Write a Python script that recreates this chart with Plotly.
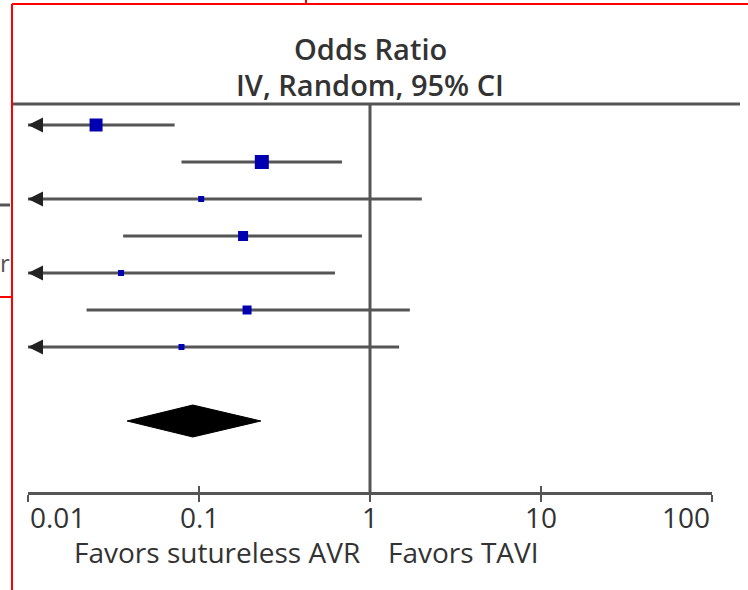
import numpy as np
import plotly.graph_objects as go

# Study estimates (odds ratios with 95% CI), top to bottom
rows = [0, 1, 2, 3, 4, 5, 6]
or_est = [0.025, 0.233, 0.103, 0.181, 0.035, 0.191, 0.079]
ci_low = [0.005, 0.079, 0.004, 0.036, 0.003, 0.022, 0.002]
ci_high = [0.072, 0.686, 2.01, 0.897, 0.624, 1.71, 1.48]
weight_size = [13, 14, 6, 10, 6, 9, 6]

# Pooled estimate
pooled_row = 8
pooled_est = 0.092
pooled_low = 0.038
pooled_high = 0.23

tick_vals = [0.01, 0.1, 1, 10, 100]
tick_text = ["0.01", "0.1", "1", "10", "100"]

X_MIN, X_MAX = 0.01, 100
W, H = 748, 590
LINE = "#555555"
TEXT = "#333333"
FONT = "Open Sans"

# vertical scale: row index -> pixel row position
ROW0_PX, ROW_STEP = 125, 37


def px_to_row(p):
    return (p - ROW0_PX) / ROW_STEP


axis_px = 493
header_px = 104
axis_pos = (H - axis_px) / H

fig = go.Figure()

# reference line at OR = 1
fig.add_trace(go.Scatter(
    x=[1, 1], y=[px_to_row(header_px), px_to_row(axis_px)],
    mode="lines", line=dict(color=LINE, width=3), hoverinfo="skip"))

# confidence interval lines (truncated at the axis minimum)
for r, lo, hi in zip(rows, ci_low, ci_high):
    fig.add_trace(go.Scatter(
        x=[max(lo, X_MIN), min(hi, X_MAX)], y=[r, r], mode="lines",
        line=dict(color=LINE, width=3), hoverinfo="skip"))

# point estimates, sized by study weight
fig.add_trace(go.Scatter(
    x=or_est, y=rows, mode="markers",
    marker=dict(symbol="square", size=weight_size, color="#0000b0",
                opacity=1, line=dict(width=0)),
    hoverinfo="skip"))

# pooled diamond
half_h = 16 / ROW_STEP
fig.add_trace(go.Scatter(
    x=[pooled_low, pooled_est, pooled_high, pooled_est, pooled_low],
    y=[pooled_row, pooled_row - half_h, pooled_row, pooled_row + half_h, pooled_row],
    mode="lines", fill="toself", fillcolor="#000000",
    line=dict(color="#000000", width=1), hoverinfo="skip"))

# invisible trace for the overlaid tick axis
fig.add_trace(go.Scatter(x=[1], y=[0], xaxis="x2", mode="markers",
                         marker=dict(opacity=0), hoverinfo="skip"))

annotations = []
# arrowheads for intervals extending beyond the axis
for r, lo in zip(rows, ci_low):
    if lo < X_MIN:
        annotations.append(dict(
            x=np.log10(X_MIN), y=r, ax=np.log10(X_MIN) + 0.08, ay=r,
            xref="x", yref="y", axref="x", ayref="y", text="",
            showarrow=True, arrowhead=2, arrowsize=1.0, arrowwidth=3,
            arrowcolor="#222222", standoff=0))

# tick labels
for v, t in zip(tick_vals, tick_text):
    anchor = "left" if v == X_MIN else ("right" if v == X_MAX else "center")
    annotations.append(dict(
        x=np.log10(v), y=(H - 517) / H, xref="x", yref="paper", text=t,
        showarrow=False, xanchor=anchor, yanchor="middle", height=30,
        font=dict(family=FONT, size=28, color=TEXT)))

# direction labels
annotations.append(dict(
    x=np.log10(1), y=(H - 552) / H, xref="x", yref="paper",
    text="Favors sutureless AVR", showarrow=False, xanchor="right",
    xshift=-8, yanchor="middle", height=30,
    font=dict(family=FONT, size=28, color=TEXT)))
annotations.append(dict(
    x=np.log10(1), y=(H - 552) / H, xref="x", yref="paper",
    text="Favors TAVI", showarrow=False, xanchor="left",
    xshift=16, yanchor="middle", height=30,
    font=dict(family=FONT, size=28, color=TEXT)))

# column header
annotations.append(dict(
    x=np.log10(1), y=(H - 48) / H, xref="x", yref="paper",
    text="Odds Ratio", showarrow=False, xanchor="center", yanchor="middle",
    font=dict(family=FONT, size=29, color=TEXT, weight=600)))
annotations.append(dict(
    x=np.log10(1), y=(H - 85) / H, xref="x", yref="paper",
    text="IV, Random, 95% CI", showarrow=False, xanchor="center",
    yanchor="middle",
    font=dict(family=FONT, size=29, color=TEXT, weight=600)))

# label fragment at the left edge
annotations.append(dict(
    x=11 / W, y=(H - 262) / H, xref="paper", yref="paper", text="r",
    showarrow=False, xanchor="right", yanchor="middle", borderpad=0,
    font=dict(family=FONT, size=24, color="#555555")))

shapes = [
    # header rule
    dict(type="line", xref="paper", yref="paper", x0=12 / W, x1=740 / W,
         y0=(H - header_px) / H, y1=(H - header_px) / H,
         line=dict(color=LINE, width=3)),
    # rule fragment at the left edge
    dict(type="line", xref="paper", yref="paper", x0=0, x1=10 / W,
         y0=(H - 205) / H, y1=(H - 205) / H, line=dict(color=LINE, width=3)),
    # red panel frames
    dict(type="line", xref="paper", yref="paper", x0=12 / W, x1=1,
         y0=(H - 4) / H, y1=(H - 4) / H, line=dict(color="#ff0000", width=2)),
    dict(type="line", xref="paper", yref="paper", x0=306 / W, x1=306 / W,
         y0=1, y1=(H - 4) / H, line=dict(color="#ff0000", width=2)),
    dict(type="line", xref="paper", yref="paper", x0=12 / W, x1=12 / W,
         y0=0, y1=(H - 4) / H, line=dict(color="#ff0000", width=2)),
    dict(type="line", xref="paper", yref="paper", x0=0, x1=12 / W,
         y0=(H - 297) / H, y1=(H - 297) / H, line=dict(color="#ff0000", width=2)),
]

x_range = [np.log10(X_MIN), np.log10(X_MAX)]
x_domain = [28 / W, 712 / W]

fig.update_layout(
    width=W, height=H,
    margin=dict(l=0, r=0, t=0, b=0),
    paper_bgcolor="white", plot_bgcolor="white",
    showlegend=False,
    xaxis=dict(type="log", range=x_range, domain=x_domain,
               anchor="free", position=axis_pos,
               showline=True, linecolor=LINE, linewidth=3,
               ticks="outside", ticklen=7, tickwidth=2, tickcolor=LINE,
               tickvals=tick_vals, showticklabels=False,
               showgrid=False, zeroline=False),
    xaxis2=dict(type="log", range=x_range, domain=x_domain,
                overlaying="x", anchor="free", position=axis_pos,
                showline=False, ticks="inside", ticklen=7, tickwidth=2,
                tickcolor=LINE, tickvals=tick_vals, showticklabels=False,
                showgrid=False, zeroline=False),
    yaxis=dict(range=[px_to_row(H), px_to_row(0)], domain=[0, 1],
               visible=False),
    annotations=annotations,
    shapes=shapes,
)

fig.write_html("out.html")
